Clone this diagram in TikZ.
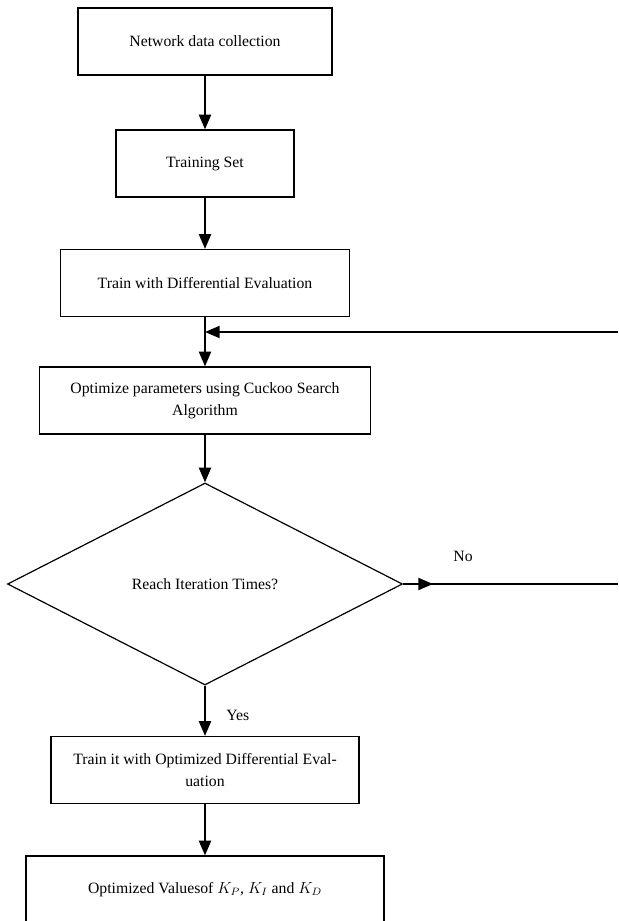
\documentclass[tikz,border=0pt]{standalone}
\usepackage{fontspec}
\setmainfont{Liberation Serif}
\usetikzlibrary{arrows.meta}
\usetikzlibrary{shapes.geometric}

\begin{document}
\begin{tikzpicture}[x=0.75pt,y=-0.75pt]
              \tikzset{>={Triangle[width=9pt,length=11pt]}}
              \tikzstyle{stepbox}=[draw,line width=0.9pt,minimum height=50.25pt,inner sep=2pt,align=center,font=\fontsize{11.8}{16.5}\selectfont]
              \tikzstyle{decision}=[diamond,draw,line width=0.9pt,inner sep=0pt,minimum width=296.25pt,minimum height=151.5pt,font=\fontsize{11.8}{14}\selectfont]
              \tikzstyle{flow}=[->,line width=1.5pt]
              \tikzstyle{label}=[font=\fontsize{11.8}{14}\selectfont]

              % Frame
              \useasboundingbox (0,0) rectangle (618,921);

              % Steps
              \node[stepbox,minimum width=190.5pt] (collect) at (205,41.5) {Network data collection};
              \node[stepbox,minimum width=133.5pt] (trainset) at (205,163.5) {Training Set};
              \node[stepbox,minimum width=216.75pt] (traindiff) at (205,283) {Train with Differential Evaluation};
              \node[stepbox,minimum width=248.25pt] (cuckoo) at (205,400.5) {Optimize parameters using Cuckoo Search\\Algorithm};
              \node[decision] (iter) at (205,584) {Reach Iteration Times?};
              \node[stepbox,minimum width=231pt] (trainopt) at (205,770) {Train it with Optimized Differential Eval-\\uation};
              \node[stepbox,minimum width=268.5pt] (values) at (205,889.5) {Optimized Valuesof $K_P$, $K_I$ and $K_D$};

              % Loop ends at the frame
              \coordinate (loopin) at (205,332);
              \coordinate (loopright) at (618,332);
              \coordinate (noright) at (618,584);
              \coordinate (notip) at (433,584);

              % Connectors
              \draw[flow] (collect) -- (trainset);
              \draw[flow] (trainset) -- (traindiff);
              \draw[flow] (traindiff) -- (cuckoo);
              \draw[flow] (cuckoo) -- (iter.north);
              \draw[flow] (iter.south) -- (trainopt) node[label,pos=0.6,right=12pt] {Yes};
              \draw[flow] (trainopt) -- (values);
              \draw[flow] (loopright) -- (loopin);
              \draw[line width=1.5pt] (iter.east) -- (noright);
              \draw[flow] (iter.east) -- (notip);
              \node[label] (no) at (463,556) {No};

            \end{tikzpicture}
\end{document}
